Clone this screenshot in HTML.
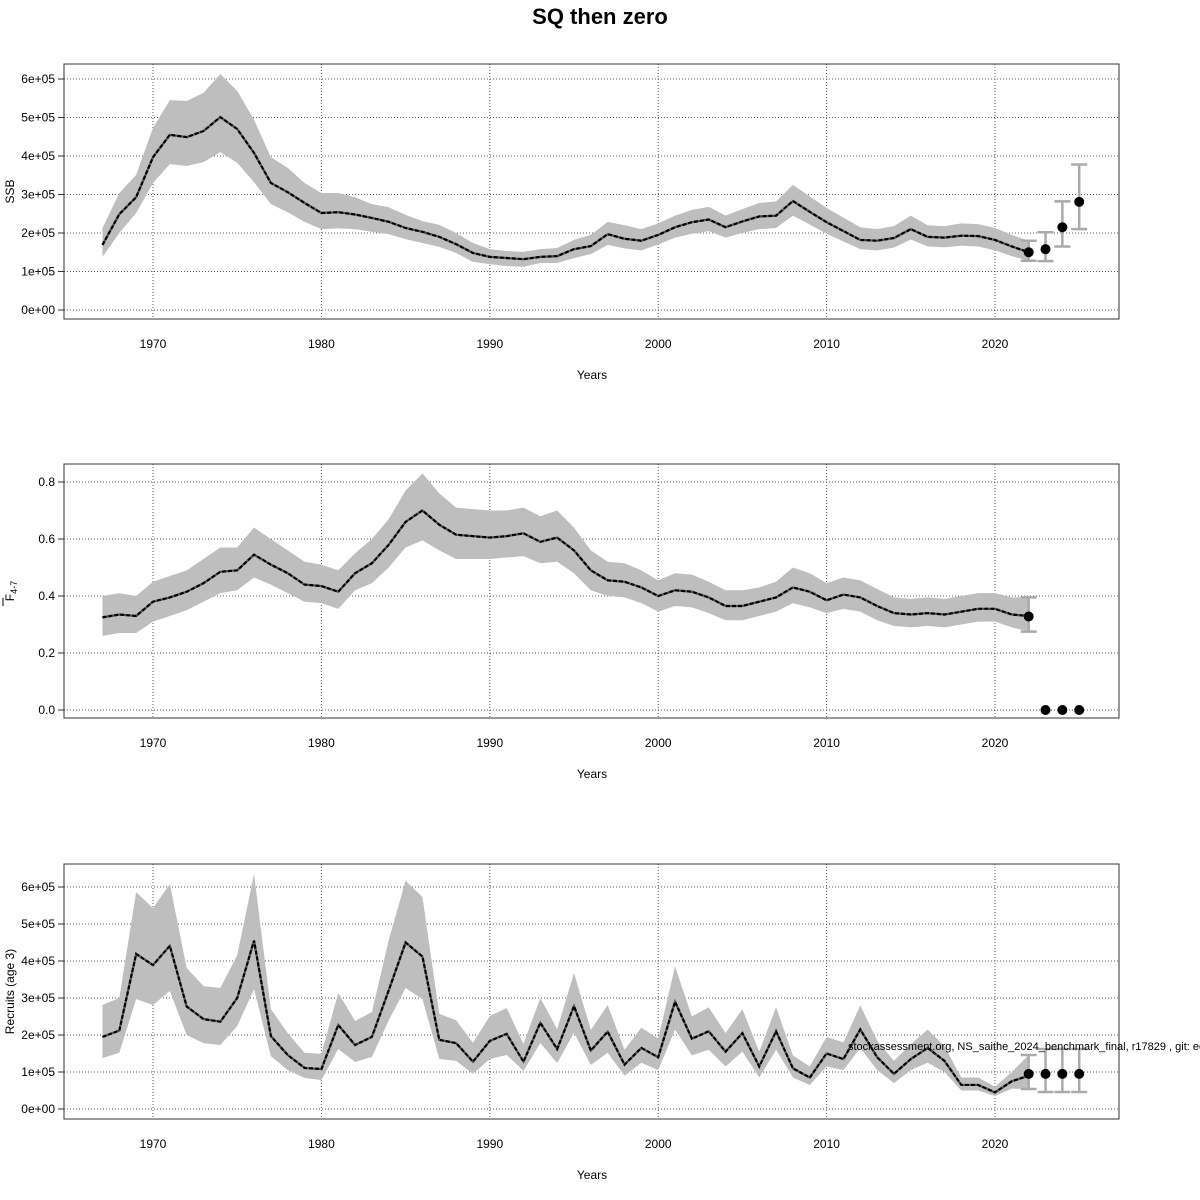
<!DOCTYPE html>
<html><head><meta charset="utf-8"><style>
body{margin:0;background:#fff;}
svg{display:block;font-family:"Liberation Sans",sans-serif;}
</style></head><body>
<svg id="chart" width="1200" height="1200" xmlns="http://www.w3.org/2000/svg">
<rect width="1200" height="1200" fill="#fff"/>
<text x="600" y="24" text-anchor="middle" font-size="22" font-weight="bold">SQ then zero</text>
</svg>
<script>
const years = [];
for (let y = 1967; y <= 2022; y++) years.push(y);
const xTicks = [1970, 1980, 1990, 2000, 2010, 2020];

const ssbMean = [169,249,293,397,455,449,465,501,470,408,330,306,278,252,254,248,239,229,213,203,190,171,148,138,135,132,138,140,158,166,197,185,180,195,215,228,235,215,230,243,245,283,255,228,205,182,180,187,210,190,188,193,192,182,165,150];
const ssbHi = [213,304,351,473,545,543,564,613,569,494,397,369,330,304,304,293,275,267,247,231,221,200,174,158,153,151,158,161,182,195,229,220,210,225,245,260,268,245,262,278,282,325,295,265,240,215,210,218,245,220,218,225,223,213,195,180];
const ssbLo = [138,200,252,330,379,374,384,410,382,332,275,254,229,210,212,210,203,197,184,174,164,148,125,119,114,112,122,122,135,145,169,160,155,170,188,198,205,188,200,210,213,245,222,198,178,158,155,162,183,165,163,167,165,155,140,128];
const ssbFcYears = [2022, 2023, 2024, 2025];
const ssbFc = [150, 158, 215, 281];
const ssbFcLo = [128, 127, 165, 210];
const ssbFcHi = [180, 202, 282, 378];
const ssbTicks = [0,100,200,300,400,500,600];
const ssbTickLabels = ["0e+00","1e+05","2e+05","3e+05","4e+05","5e+05","6e+05"];

const fMean = [.325,.335,.33,.38,.395,.415,.445,.485,.49,.545,.51,.48,.44,.435,.415,.48,.515,.58,.66,.70,.65,.615,.61,.605,.61,.62,.59,.605,.56,.49,.455,.45,.43,.40,.42,.415,.395,.365,.365,.38,.395,.43,.415,.385,.405,.395,.365,.34,.335,.34,.335,.345,.355,.355,.335,.33];
const fHi = [.40,.41,.40,.45,.47,.49,.53,.57,.57,.64,.60,.56,.52,.51,.49,.55,.60,.67,.77,.83,.76,.71,.705,.70,.70,.71,.68,.70,.64,.56,.52,.515,.49,.455,.48,.475,.45,.42,.42,.43,.45,.50,.48,.445,.465,.455,.425,.395,.39,.395,.39,.40,.41,.41,.395,.395];
const fLo = [.26,.27,.27,.31,.33,.35,.38,.41,.42,.465,.44,.41,.38,.375,.355,.42,.445,.50,.57,.595,.56,.53,.53,.53,.535,.54,.515,.52,.48,.42,.40,.395,.375,.345,.365,.36,.34,.315,.315,.33,.345,.375,.36,.34,.355,.345,.315,.295,.29,.295,.29,.30,.31,.31,.29,.275];
const fFcYears = [2022, 2023, 2024, 2025];
const fFc = [.328, 0, 0, 0];
const fFcLo = [.275, 0, 0, 0];
const fFcHi = [.395, 0, 0, 0];
const fTicks = [0, .2, .4, .6, .8];
const fTickLabels = ["0.0","0.2","0.4","0.6","0.8"];

const recMean = [195,212,419,389,441,277,243,236,300,455,197,146,111,108,227,173,195,321,450,412,187,178,128,184,203,128,233,162,278,158,209,120,165,140,290,190,210,155,205,115,210,110,85,150,135,215,140,95,135,165,130,65,65,45,75,90];
const recHi = [281,300,586,543,608,381,332,327,416,635,270,205,152,149,314,238,262,457,617,573,257,240,179,251,273,176,300,216,368,214,281,160,220,190,385,250,275,205,270,155,275,145,115,195,180,280,185,130,175,215,170,85,85,60,100,146];
const recLo = [138,152,297,281,319,200,178,173,224,324,143,105,84,78,162,127,141,240,327,297,135,130,95,135,146,103,178,124,206,119,152,90,125,105,215,145,160,115,155,85,160,85,65,115,105,165,105,70,105,125,100,50,50,35,55,54];
const recFcYears = [2022, 2023, 2024, 2025];
const recFc = [95, 95, 95, 95];
const recFcLo = [54, 46, 46, 46];
const recFcHi = [146, 162, 162, 162];
const recTicks = [0,100,200,300,400,500,600];
const recTickLabels = ["0e+00","1e+05","2e+05","3e+05","4e+05","5e+05","6e+05"];

const NS = "http://www.w3.org/2000/svg";
const svg = document.getElementById('chart');
function el(tag, attrs, parent) {
  const e = document.createElementNS(NS, tag);
  for (const k in attrs) e.setAttribute(k, attrs[k]);
  (parent || svg).appendChild(e);
  return e;
}
const X0 = 64, X1 = 1119;
function xs(yr) { return 153 + (yr - 1970) * 16.84; }

function panel(name, top, bottom, yZeroPx, yTopVal, yTopPx, ticks, tickLabels, mean, hi, lo, fy, fc, flo, fhi, ylabel, pid) {
  const g = el('g', {});
  
  
  const ys = v => yZeroPx - (v / yTopVal) * (yZeroPx - yTopPx);
  ticks.forEach((t, i) => {
    const l = el('line', {x1: X0, x2: X1, y1: ys(t), y2: ys(t), stroke: '#555', 'stroke-width': 1, 'stroke-dasharray': '1,2'}, g);
    
    
    const tk = el('line', {x1: X0 - 6, x2: X0, y1: ys(t), y2: ys(t), stroke: '#333'}, g);
    
    
    const tx = el('text', {x: X0 - 9, y: ys(t) + 4, 'text-anchor': 'end', 'font-size': 12}, g);
    tx.textContent = tickLabels[i];
    
    
  });
  xTicks.forEach(yr => {
    const l = el('line', {x1: xs(yr), x2: xs(yr), y1: top, y2: bottom, stroke: '#555', 'stroke-width': 1, 'stroke-dasharray': '1,2'}, g);
    
    
    const tx = el('text', {x: xs(yr), y: bottom + 29, 'text-anchor': 'middle', 'font-size': 12}, g);
    tx.textContent = yr;
    
    
  });
  let d = '';
  years.forEach((yr, i) => { d += (i ? 'L' : 'M') + xs(yr) + ',' + ys(hi[i]); });
  for (let i = years.length - 1; i >= 0; i--) d += 'L' + xs(years[i]) + ',' + ys(lo[i]);
  const band = el('path', {d: d + 'Z', fill: '#bebebe', stroke: 'none'}, g);
  
  
  let m = '';
  years.forEach((yr, i) => { m += (i ? 'L' : 'M') + xs(yr) + ',' + ys(mean[i]); });
  const ml = el('path', {d: m, fill: 'none', stroke: '#555', 'stroke-width': 2.2}, g);
  
  
  const md = el('path', {d: m, fill: 'none', stroke: '#000', 'stroke-width': 2.2, 'stroke-dasharray': '4,2'}, g);
  
  
  fy.forEach((yr, i) => {
    const x = xs(yr);
    if (fhi[i] !== flo[i]) {
      const eb = el('path', {d: `M${x},${ys(flo[i])}V${ys(fhi[i])}M${x-8},${ys(flo[i])}H${x+8}M${x-8},${ys(fhi[i])}H${x+8}`, stroke: '#aaa', 'stroke-width': 2.5, fill: 'none'}, g);
      
      
    }
    const c = el('circle', {cx: x, cy: ys(fc[i]), r: 5, fill: '#000'}, g);
    
    
  });
  const box = el('rect', {x: X0, y: top, width: X1 - X0, height: bottom - top, fill: 'none', stroke: '#333', 'stroke-width': 1}, g);
  
  
  const xt = el('text', {x: 592, y: bottom + 60, 'text-anchor': 'middle', 'font-size': 12}, g);
  xt.textContent = 'Years';
  
  
  const cy = (top + bottom) / 2;
  const yt = el('text', {x: 14, y: cy, 'text-anchor': 'middle', 'font-size': 12, transform: `rotate(-90 14 ${cy})`}, g);
  yt.innerHTML = ylabel;
  
  
  return g;
}

panel('ssb', 64, 319, 310, 600, 79, ssbTicks, ssbTickLabels, ssbMean, ssbHi, ssbLo, ssbFcYears, ssbFc, ssbFcLo, ssbFcHi, 'SSB', 'ssb');
panel('f', 464, 718, 710, 0.8, 482, fTicks, fTickLabels, fMean, fHi, fLo, fFcYears, fFc, fFcLo, fFcHi, 'F<tspan font-size="9" dy="3">4-7</tspan>', 'fbar');
panel('rec', 864, 1119, 1109, 600, 887, recTicks, recTickLabels, recMean, recHi, recLo, recFcYears, recFc, recFcLo, recFcHi, 'Recruits (age 3)', 'recruits');

const ov = el('line', {x1: 3, x2: 3, y1: 598, y2: 606, stroke: '#000', 'stroke-width': 1});


const foot = el('text', {x: 848, y: 1050, 'font-size': 11});
foot.textContent = 'stockassessment.org, NS_saithe_2024_benchmark_final, r17829 , git: ec2c3a';


</script>
</body></html>
